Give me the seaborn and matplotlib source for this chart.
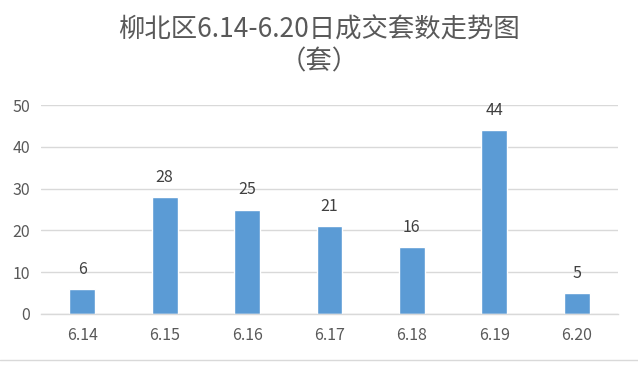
import matplotlib
matplotlib.use("Agg")
import matplotlib.pyplot as plt
import seaborn as sns
import pandas as pd
from matplotlib.lines import Line2D

dates = ["6.14", "6.15", "6.16", "6.17", "6.18", "6.19", "6.20"]
counts = [6, 28, 25, 21, 16, 44, 5]
yticks = [0, 10, 20, 30, 40, 50]

sns.set_theme(style="white")
plt.rcParams['font.family'] = ['Noto Sans CJK SC', 'DejaVu Sans']

df = pd.DataFrame({"date": dates, "count": counts})

fig = plt.figure(figsize=(6.38, 3.66), dpi=100)
ax = fig.add_axes([41/638, 1-314/366, (618-41)/638, (314-105)/366])

sns.barplot(data=df, x="date", y="count", color="#5B9BD5", saturation=1,
            width=0.315, ax=ax)

ax.set_ylim(0, 50)
ax.set_yticks(yticks)
ax.yaxis.grid(True, color="#D9D9D9", linewidth=1)
ax.set_axisbelow(True)
for s in ["top", "right", "left"]:
    ax.spines[s].set_visible(False)
ax.spines["bottom"].set_color("#D9D9D9")
ax.spines["bottom"].set_linewidth(1)
ax.set_xlabel("")
ax.set_ylabel("")
ax.tick_params(axis="x", length=0, pad=9, labelsize=11.5, labelcolor="#595959")
ax.tick_params(axis="y", length=0, pad=8, labelsize=11.5, labelcolor="#595959")

for p, v in zip(ax.patches, counts):
    ax.annotate(str(v), (p.get_x() + p.get_width()/2, p.get_height()),
                xytext=(0, 8), textcoords="offset points",
                ha="center", va="bottom", fontsize=11.5, color="#404040")

fig.text(0.5, 1-30/366, "柳北区6.14-6.20日成交套数走势图", ha="center", va="center",
         fontsize=19, color="#595959")
fig.text(0.5, 1-62/366, "（套）", ha="center", va="center",
         fontsize=19, color="#595959")

fig.add_artist(Line2D([0, 1], [1-360/366, 1-360/366], color="#D9D9D9",
                      linewidth=1, transform=fig.transFigure))

fig.savefig("out.png", dpi=100, facecolor="white")
